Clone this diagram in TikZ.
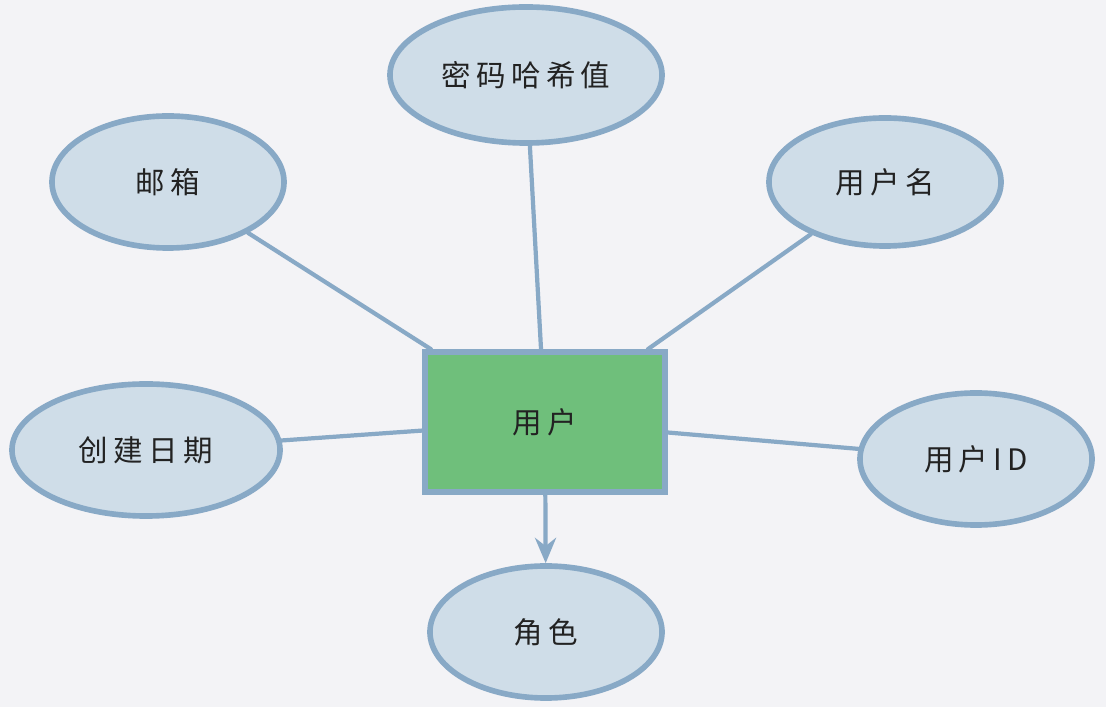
\documentclass[tikz,border=0pt]{standalone}
\usepackage{fontspec}
\usepackage{tikz}
\usetikzlibrary{shapes.geometric,arrows.meta}
\newfontfamily\cjk[LetterSpace=18]{Noto Sans CJK SC}
\definecolor{canvasgrey}{HTML}{F3F3F6}
\definecolor{attrfill}{HTML}{CFDDE8}
\definecolor{attrline}{HTML}{88A9C6}
\definecolor{entitygreen}{HTML}{6FBF7B}
\definecolor{inkblack}{HTML}{222222}

\begin{document}
\begin{tikzpicture}[x=0.025cm, y=-0.025cm,
  attr/.style={ellipse, draw=attrline, fill=attrfill, line width=4pt, text=inkblack, font=\cjk\fontsize{21}{24}\selectfont},
  entity/.style={rectangle, draw=attrline, fill=entitygreen, line width=4pt, minimum width=6cm, minimum height=3.5cm, text=inkblack, font=\cjk\fontsize{21}{24}\selectfont},
  link/.style={draw=attrline, line width=3pt, line cap=round}]
\fill[canvasgrey] (0,0) rectangle (1106,707);
\useasboundingbox (0,0) rectangle (1106,707);

% entity
\node[entity] (user) at (545,422) {用户};

% attributes
\node[attr, minimum width=6.8cm, minimum height=3.4cm] (pwd) at (526,75) {密码哈希值};
\node[attr, minimum width=5.8cm, minimum height=3.3cm] (mail) at (168,182) {邮箱};
\node[attr, minimum width=5.8cm, minimum height=3.2cm] (uname) at (885,182) {用户名};
\node[attr, minimum width=6.7cm, minimum height=3.3cm] (created) at (146,450) {创建日期};
\node[attr, minimum width=5.8cm, minimum height=3.3cm] (uid) at (976,459) {用户ID};
\node[attr, minimum width=5.8cm, minimum height=3.3cm] (role) at (546,632) {角色};

% connectors
\draw[link] (mail) -- (user);
\draw[link] (pwd) -- (user);
\draw[link] (uname) -- (user);
\draw[link] (created) -- (user);
\draw[link] (uid) -- (user);
\draw[link, -{Stealth[length=18pt, width=15pt]}] (user) -- (role);
\end{tikzpicture}
\end{document}
